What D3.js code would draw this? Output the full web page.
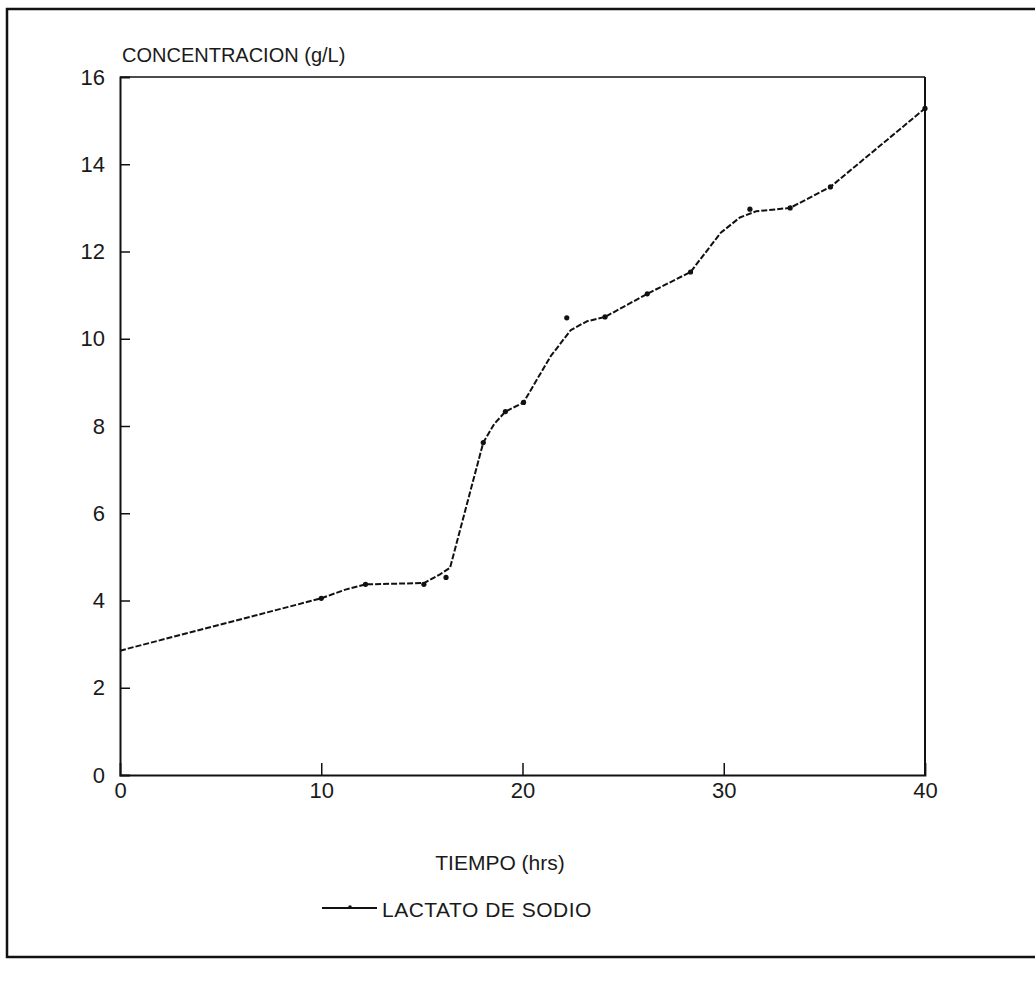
<!DOCTYPE html>
<html>
<head>
<meta charset="utf-8">
<script src="https://cdn.jsdelivr.net/npm/d3@7"></script>
<style>
  html, body { margin: 0; padding: 0; background: #fff; }
  svg { display: block; }
  text { font-family: "Liberation Sans", Arial, sans-serif; fill: #1a1a1a; }
</style>
</head>
<body>
<svg id="chart" width="1035" height="988"></svg>
<script>
// ---- data ----
const yTitle = "CONCENTRACION (g/L)";
const xTitle = "TIEMPO (hrs)";
const seriesName = "LACTATO DE SODIO";
const xTicks = [0, 10, 20, 30, 40];
const yTicks = [0, 2, 4, 6, 8, 10, 12, 14, 16];

// measured points (markers)
const pointTime = [10, 12.2, 15.1, 16.2, 18.05, 19.15, 20.05, 22.2, 24.1, 26.2, 28.35, 31.3, 33.3, 35.3, 40];
const pointConc = [4.05, 4.37, 4.37, 4.53, 7.62, 8.33, 8.54, 10.48, 10.5, 11.03, 11.53, 12.97, 13.0, 13.48, 15.28];

// smoothed curve drawn through the data (vertices)
const curveTime = [0, 10, 11.2, 12.2, 15.1, 15.9, 16.4, 18.05, 18.6, 19.15, 20.05, 21.4, 22.4, 23.2, 24.1, 26.2, 28.35, 29.85, 30.8, 31.6, 33.3, 35.3, 40];
const curveConc = [2.85, 4.05, 4.25, 4.37, 4.4, 4.6, 4.75, 7.62, 8.05, 8.33, 8.54, 9.6, 10.2, 10.4, 10.5, 11.03, 11.53, 12.43, 12.78, 12.92, 13.0, 13.48, 15.28];

// ---- drawing ----
const svg = d3.select("#chart");
const x = d3.scaleLinear().domain([0, 40]).range([120, 925]);
const y = d3.scaleLinear().domain([0, 16]).range([775, 77]);

// outer frame
svg.append("path")
  .attr("d", "M1035,9 L7,9 L7,957 L1035,957")
  .attr("fill", "none").attr("stroke", "#111").attr("stroke-width", 2.5);

// plot box (top and right)
svg.append("line").attr("x1", x(0)).attr("x2", x(40)).attr("y1", y(16)).attr("y2", y(16))
  .attr("stroke", "#111").attr("stroke-width", 1.6);
svg.append("line").attr("x1", x(40)).attr("x2", x(40)).attr("y1", y(16)).attr("y2", y(0))
  .attr("stroke", "#111").attr("stroke-width", 2);

// y axis
const yAxis = svg.append("g").attr("transform", `translate(${x(0)},0)`)
  .call(d3.axisLeft(y).tickValues(yTicks).tickSize(-10).tickPadding(15).tickFormat(d3.format("d")));
yAxis.select(".domain").attr("stroke", "#111").attr("stroke-width", 2);
yAxis.selectAll(".tick line").attr("stroke", "#111").attr("stroke-width", 1.5)
  .filter(d => d === 0 || d === 16).remove();
yAxis.selectAll(".tick text").attr("font-size", 22).attr("font-family", "Liberation Sans, Arial, sans-serif").attr("fill", "#1a1a1a");

// x axis
const xAxis = svg.append("g").attr("transform", `translate(0,${y(0)})`)
  .call(d3.axisBottom(x).tickValues(xTicks).tickSize(-12).tickPadding(7).tickFormat(d3.format("d")));
xAxis.select(".domain").attr("stroke", "#111").attr("stroke-width", 1.8);
xAxis.selectAll(".tick line").attr("stroke", "#111").attr("stroke-width", 1.5)
  .filter(d => d === 0 || d === 40).remove();
xAxis.selectAll(".tick text").attr("font-size", 22).attr("font-family", "Liberation Sans, Arial, sans-serif").attr("fill", "#1a1a1a");

// titles
svg.append("text").attr("x", 122).attr("y", 62).attr("font-size", 20).text(yTitle);
svg.append("text").attr("x", 500).attr("y", 870).attr("text-anchor", "middle").attr("font-size", 21).text(xTitle);

// curve
const curveData = curveTime.map((t, i) => ({ t, v: curveConc[i] }));
const line = d3.line().x(d => x(d.t)).y(d => y(d.v)).curve(d3.curveLinear);
svg.append("path").datum(curveData)
  .attr("d", line)
  .attr("fill", "none").attr("stroke", "#111").attr("stroke-width", 2)
  .attr("stroke-linejoin", "round")
  .attr("stroke-dasharray", "6,2");

// markers
const pts = pointTime.map((t, i) => ({ t, v: pointConc[i] }));
svg.append("g").selectAll("circle").data(pts).join("circle")
  .attr("cx", d => x(d.t)).attr("cy", d => y(d.v)).attr("r", 2.6).attr("fill", "#111");

// legend
const lg = svg.append("g");
lg.append("line").attr("x1", 322).attr("x2", 377).attr("y1", 908).attr("y2", 908)
  .attr("stroke", "#111").attr("stroke-width", 1.8);
lg.append("circle").attr("cx", 350).attr("cy", 907).attr("r", 1.8).attr("fill", "#111");
lg.append("text").attr("x", 382).attr("y", 917).attr("font-size", 21).attr("letter-spacing", 0.5).text(seriesName);
</script>
</body>
</html>
